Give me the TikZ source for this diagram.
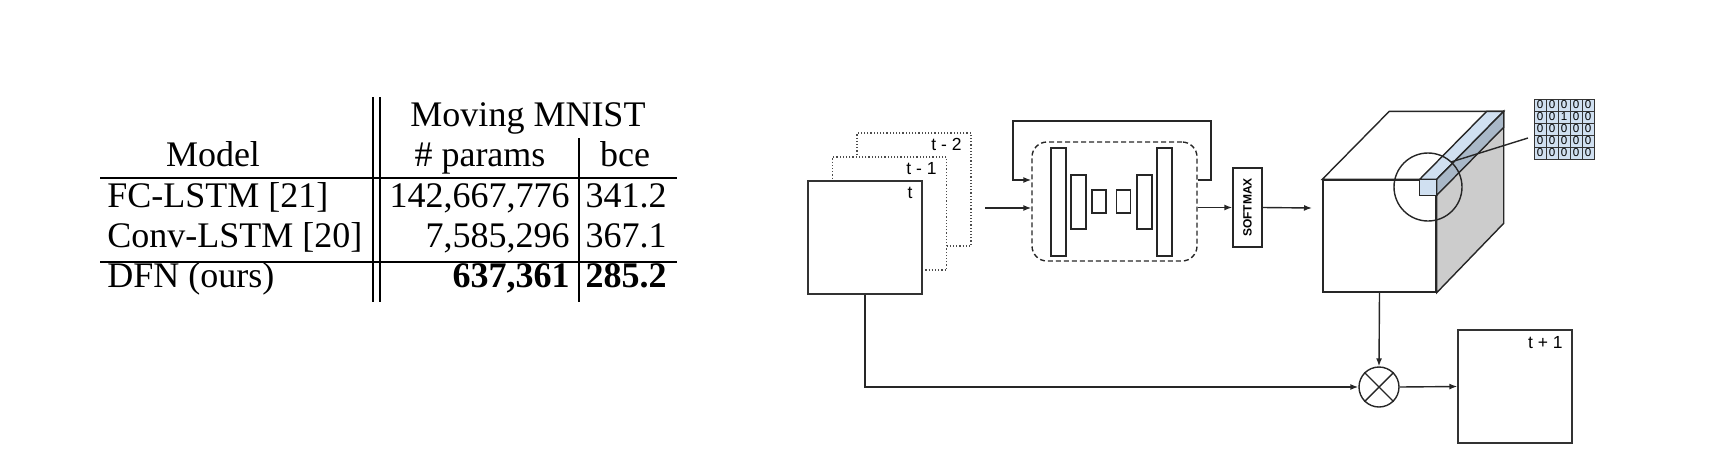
\documentclass[tikz,border=0pt]{standalone}
\usepackage{fontspec}
\setmainfont{Liberation Serif}
\setsansfont{Liberation Sans}
\usepackage{xcolor}
\usetikzlibrary{arrows.meta,calc}
\definecolor{lblue}{HTML}{D0E0F1}
\definecolor{sblue}{HTML}{A9B8C8}
\definecolor{sgray}{HTML}{CCCCCC}

\begin{document}
\begin{tikzpicture}[x=0.5pt,y=-0.5pt,
  tab/.style={inner sep=0pt,font=\fontsize{18}{21}\selectfont},
  rule/.style={line width=0.6pt},
  frame/.style={draw=black!80,line width=0.7pt,fill=white,minimum width=57pt,minimum height=56.5pt,inner sep=0pt},
  ghost/.style={frame,draw=black!70,dash pattern=on 0.6pt off 1pt},
  tlab/.style={anchor=base east,inner sep=0pt,font=\sffamily\fontsize{8.75}{10}\selectfont},
  bar/.style={draw=black!85,line width=0.7pt,fill=white,inner sep=0pt},
  wire/.style={line width=0.7pt,draw=black!85},
  arr/.style={wire,-{Latex[length=4pt,width=3pt]}},
  cell/.style={draw=black!80,line width=0.5pt,fill=lblue,minimum size=6pt,inner sep=0pt,font=\sffamily\fontsize{5.8}{6}\selectfont}]
\useasboundingbox (0,0) rectangle (1736,472);

\node[tab,anchor=base] at(528,126) (hmnist) {Moving MNIST};
\node[tab,anchor=base] at(213,166) (hmodel) {Model};
\node[tab,anchor=base] at(480,166) (hparams) {\# params};
\node[tab,anchor=base] at(625,166) (hbce) {bce};

\node[tab,anchor=base west] at(107,207) (m1) {FC-LSTM [21]};
\node[tab,anchor=base east] at(570,207) (p1) {142,667,776};
\node[tab,anchor=base east] at(667,207) (b1) {341.2};
\node[tab,anchor=base west] at(107,247) (m2) {Conv-LSTM [20]};
\node[tab,anchor=base east] at(570,247) (p2) {7,585,296};
\node[tab,anchor=base east] at(667,247) (b2) {367.1};
\node[tab,anchor=base west] at(107,287) (m3) {DFN (ours)};
\node[tab,anchor=base east] at(570,287) (p3) {\bfseries 637,361};
\node[tab,anchor=base east] at(667,287) (b3) {\bfseries 285.2};

\draw[rule] (100,178) -- (677,178);
\draw[rule] (100,262) -- (677,262);
\draw[rule] (373,97) -- (373,302);
\draw[rule] (380,97) -- (380,302);
\draw[rule] (579,138) -- (579,302);


\node[ghost] at(914,189.5) (f2) {};
\node[ghost] at(889.5,213.5) (f1) {};
\node[frame] at(865,237.5) (f0) {};

\node[tlab] at(962,150) (l2) {t - 2};
\node[tlab] at(937,174) (l1) {t - 1};
\node[tlab] at(913,198) (l0) {t};


\node[draw=black!85,line width=0.7pt,dash pattern=on 2.5pt off 1.5pt,rounded corners=7.5pt,minimum width=82.5pt,minimum height=59.5pt] at(1114.5,201.5) (net) {};

\node[bar,minimum width=7.5pt,minimum height=54pt] at(1058.5,202) (c1) {};
\node[bar,minimum width=7.5pt,minimum height=27pt] at(1078.5,202) (c2) {};
\node[bar,minimum width=7pt,minimum height=11.5pt] at(1099,201.5) (c3) {};
\node[bar,minimum width=7pt,minimum height=11.5pt] at(1123.5,201.5) (c4) {};
\node[bar,minimum width=7.5pt,minimum height=27pt] at(1144.5,202) (c5) {};
\node[bar,minimum width=7.5pt,minimum height=54pt] at(1164.5,202) (c6) {};

\node[bar,minimum width=14.5pt,minimum height=39.5pt] at(1247.5,207.5) (soft) {};
\node[rotate=90,inner sep=0pt,font=\sffamily\bfseries\fontsize{6}{6}\selectfont] at(soft.center) (softtxt) {SOFTMAX};


\node[draw=black!85,line width=0.7pt,fill=white,minimum width=56.5pt,minimum height=56pt,inner sep=0pt] at(1379.5,236) (cube) {};
\draw[wire,fill=white] (cube.north west) -- ++(67,-68) -- ++(113,0) -- (cube.north east) -- cycle;
\draw[wire,fill=sgray] (cube.north east) -- ++(67,-68) -- ++(0,112) -- (cube.south east) -- cycle;

\draw[wire,fill=lblue] (cube.north east) ++(-17,0) -- ++(67,-68) -- ++(17,0) -- (cube.north east) -- cycle;
\draw[wire,fill=sblue] (cube.north east) -- ++(67,-68) -- ++(0,16) -- ++(-67,68) -- cycle;
\draw[wire,fill=lblue] (cube.north east) rectangle ++(-17,16);

\node[draw=black!85,line width=0.7pt,circle,minimum size=34pt,inner sep=0pt] at(1428,187) (lens) {};

\foreach \row [count=\r from 0] in {{0,0,0,0,0},{0,0,1,0,0},{0,0,0,0,0},{0,0,0,0,0},{0,0,0,0,0}}
  \foreach \d [count=\c from 0] in \row
    \node[cell] at({1540+12*\c},{105+12*\r}) (g\r\c) {\d};

\coordinate (zin) at(1451,162);
\coordinate (zout) at(1528,138);
\draw[wire] (zin) -- (zout);


\node[circle,draw=black!85,line width=0.7pt,minimum size=20pt,inner sep=0pt] at(1379,387) (mul) {};
\draw[wire] (mul.45) -- (mul.225) (mul.135) -- (mul.315);

\node[frame] at(1515,386.5) (out) {};
\node[tlab] at(1563,348) (lout) {t + 1};


\coordinate (inp) at(985,208);
\coordinate (fbtop) at(1211,121);
\coordinate (fbin) at(1013,180);
\coordinate (cubein) at(1312,208);

\draw[arr] (inp) -- (inp -| net.west);
\draw[arr] (fbin -| net.east) -| (fbtop) -| (fbin) -- (fbin -| net.west);
\draw[arr] (soft.west -| net.east) -- (soft.west);
\draw[arr] (soft.east) -- (cubein);

\draw[arr] (f0.south) |- (mul.west);
\draw[arr] (cube.south) -- (mul.north);
\draw[arr] (mul.east) -- (out.west);
\end{tikzpicture}
\end{document}
